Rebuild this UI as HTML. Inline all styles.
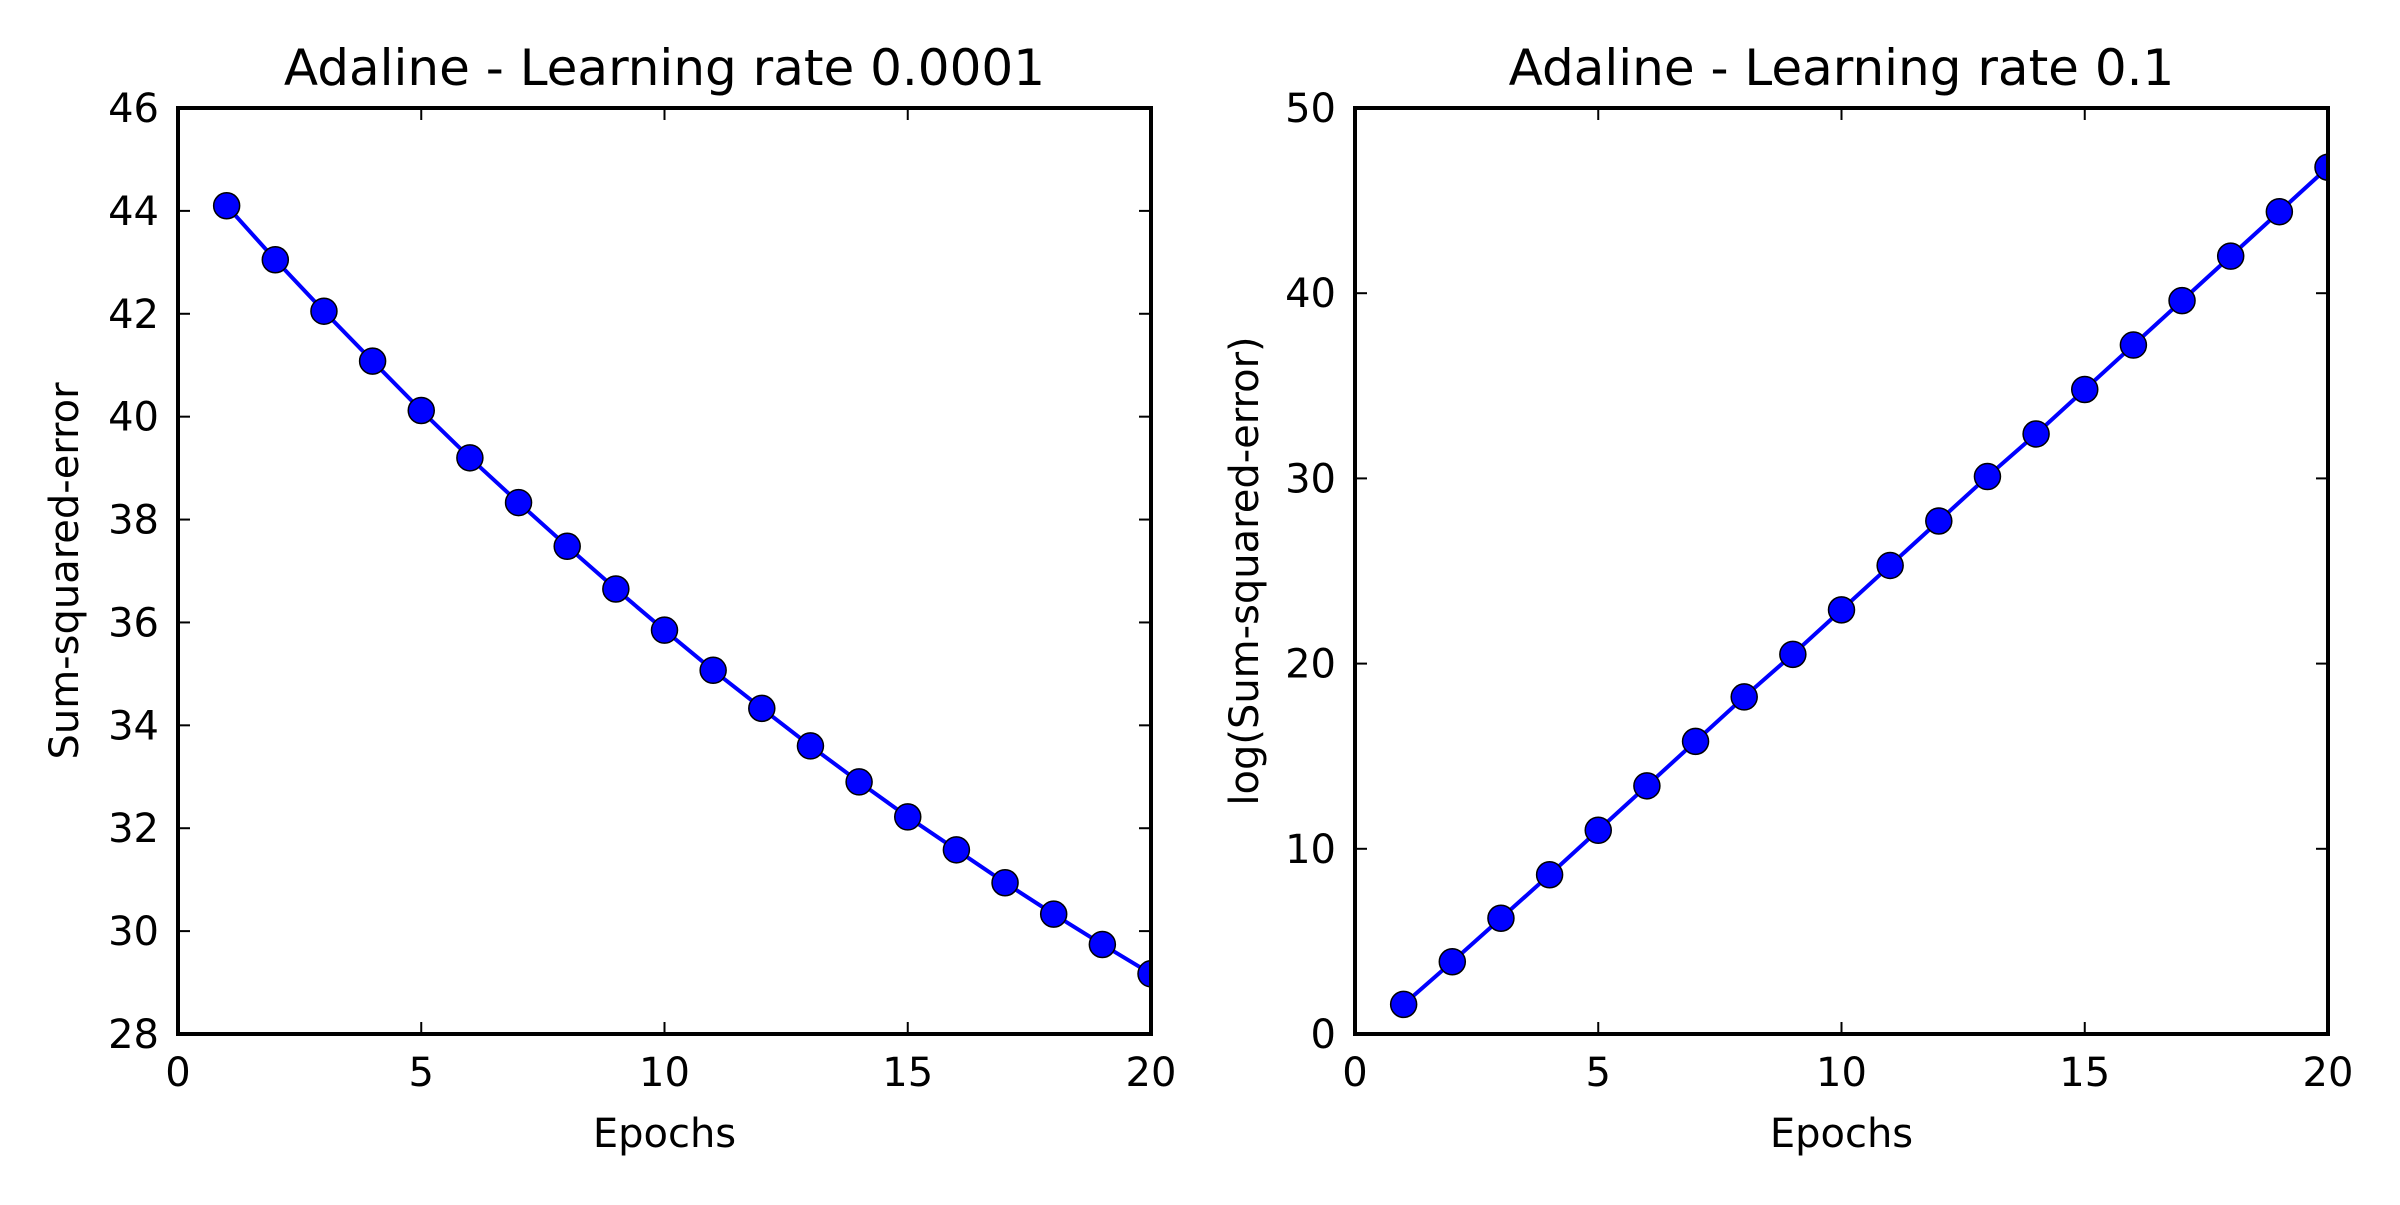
<!DOCTYPE html>
<html><head><meta charset="utf-8"><style>
html,body{margin:0;padding:0;background:#fff;}
svg text{font-family:"DejaVu Sans","Liberation Sans",sans-serif;fill:#000;}
</style></head><body>
<svg id="chart" width="2400" height="1200" viewBox="0 0 2400 1200" xmlns="http://www.w3.org/2000/svg">
<rect width="2400" height="1200" fill="#fff"/>
</svg>
<script>
const epochs = [1,2,3,4,5,6,7,8,9,10,11,12,13,14,15,16,17,18,19,20];
const sseSlow = [44.1,43.05,42.05,41.08,40.12,39.2,38.33,37.48,36.65,35.85,35.07,34.33,33.6,32.9,32.22,31.58,30.94,30.33,29.74,29.17];
const logSseFast = [1.6,3.9,6.25,8.6,11.0,13.4,15.8,18.2,20.5,22.9,25.3,27.7,30.1,32.4,34.8,37.2,39.6,42.0,44.4,46.8];
const xTicks = [0,5,10,15,20];
const yTicksLeft = [28,30,32,34,36,38,40,42,44,46];
const yTicksRight = [0,10,20,30,40,50];

const NS = "http://www.w3.org/2000/svg";
const svg = document.getElementById('chart');
function mk(tag, attrs, parent){
  const e = document.createElementNS(NS, tag);
  for (const k in attrs) e.setAttribute(k, attrs[k]);
  (parent||svg).appendChild(e);
  return e;
}
function panel(id, L, R, T, B, xMin, xMax, yMin, yMax, yTicks, ys, title, ylabel, ylabelX){
  const g = mk('g', {});
  
  
  const sx = v => L + (v - xMin) / (xMax - xMin) * (R - L);
  const sy = v => B - (v - yMin) / (yMax - yMin) * (B - T);
  const clip = mk('clipPath', {id: id + '-clip'}, g);
  mk('rect', {x: L, y: T, width: R - L, height: B - T}, clip);
  const pts = epochs.map((e, i) => sx(e) + ',' + sy(ys[i])).join(' ');
  const line = mk('polyline', {points: pts, fill: 'none', stroke: '#0000ff', 'stroke-width': 4, 'clip-path': 'url(#' + id + '-clip)'}, g);
  
  
  epochs.forEach((e, i) => {
    const c = mk('circle', {cx: sx(e), cy: sy(ys[i]), r: 13, fill: '#0000ff', stroke: '#000', 'stroke-width': 1.5, 'clip-path': 'url(#' + id + '-clip)'}, g);
    
    
  });
  xTicks.forEach(t => {
    const x = sx(t);
    mk('line', {x1: x, y1: B, x2: x, y2: B - 12, stroke: '#000', 'stroke-width': 2}, g);
    mk('line', {x1: x, y1: T, x2: x, y2: T + 12, stroke: '#000', 'stroke-width': 2}, g);
    const tx = mk('text', {x: x, y: 1086, 'font-size': 40, 'text-anchor': 'middle'}, g);
    tx.textContent = t;
    
    
  });
  yTicks.forEach(t => {
    const y = sy(t);
    mk('line', {x1: L, y1: y, x2: L + 12, y2: y, stroke: '#000', 'stroke-width': 2}, g);
    mk('line', {x1: R, y1: y, x2: R - 12, y2: y, stroke: '#000', 'stroke-width': 2}, g);
    const ty = mk('text', {x: L - 19, y: y + 14, 'font-size': 40, 'text-anchor': 'end'}, g);
    ty.textContent = t;
    
    
  });
  const frame = mk('rect', {x: L, y: T, width: R - L, height: B - T, fill: 'none', stroke: '#000', 'stroke-width': 4}, g);
  
  
  const tt = mk('text', {x: (L + R) / 2, y: 85, 'font-size': 50, 'text-anchor': 'middle'}, g);
  tt.textContent = title;
  
  
  const xl = mk('text', {x: (L + R) / 2, y: 1147, 'font-size': 40, 'text-anchor': 'middle'}, g);
  xl.textContent = 'Epochs';
  
  
  const cy = (T + B) / 2;
  const yl = mk('text', {x: ylabelX, y: cy, 'font-size': 40, 'text-anchor': 'middle', transform: 'rotate(-90 ' + ylabelX + ' ' + cy + ')'}, g);
  yl.textContent = ylabel;
  
  
}
panel('left-panel', 178, 1151, 108, 1034, 0, 20, 28, 46, yTicksLeft, sseSlow, 'Adaline - Learning rate 0.0001', 'Sum-squared-error', 78);
panel('right-panel', 1355, 2328, 108, 1034, 0, 20, 0, 50, yTicksRight, logSseFast, 'Adaline - Learning rate 0.1', 'log(Sum-squared-error)', 1258);
</script>
</body></html>
